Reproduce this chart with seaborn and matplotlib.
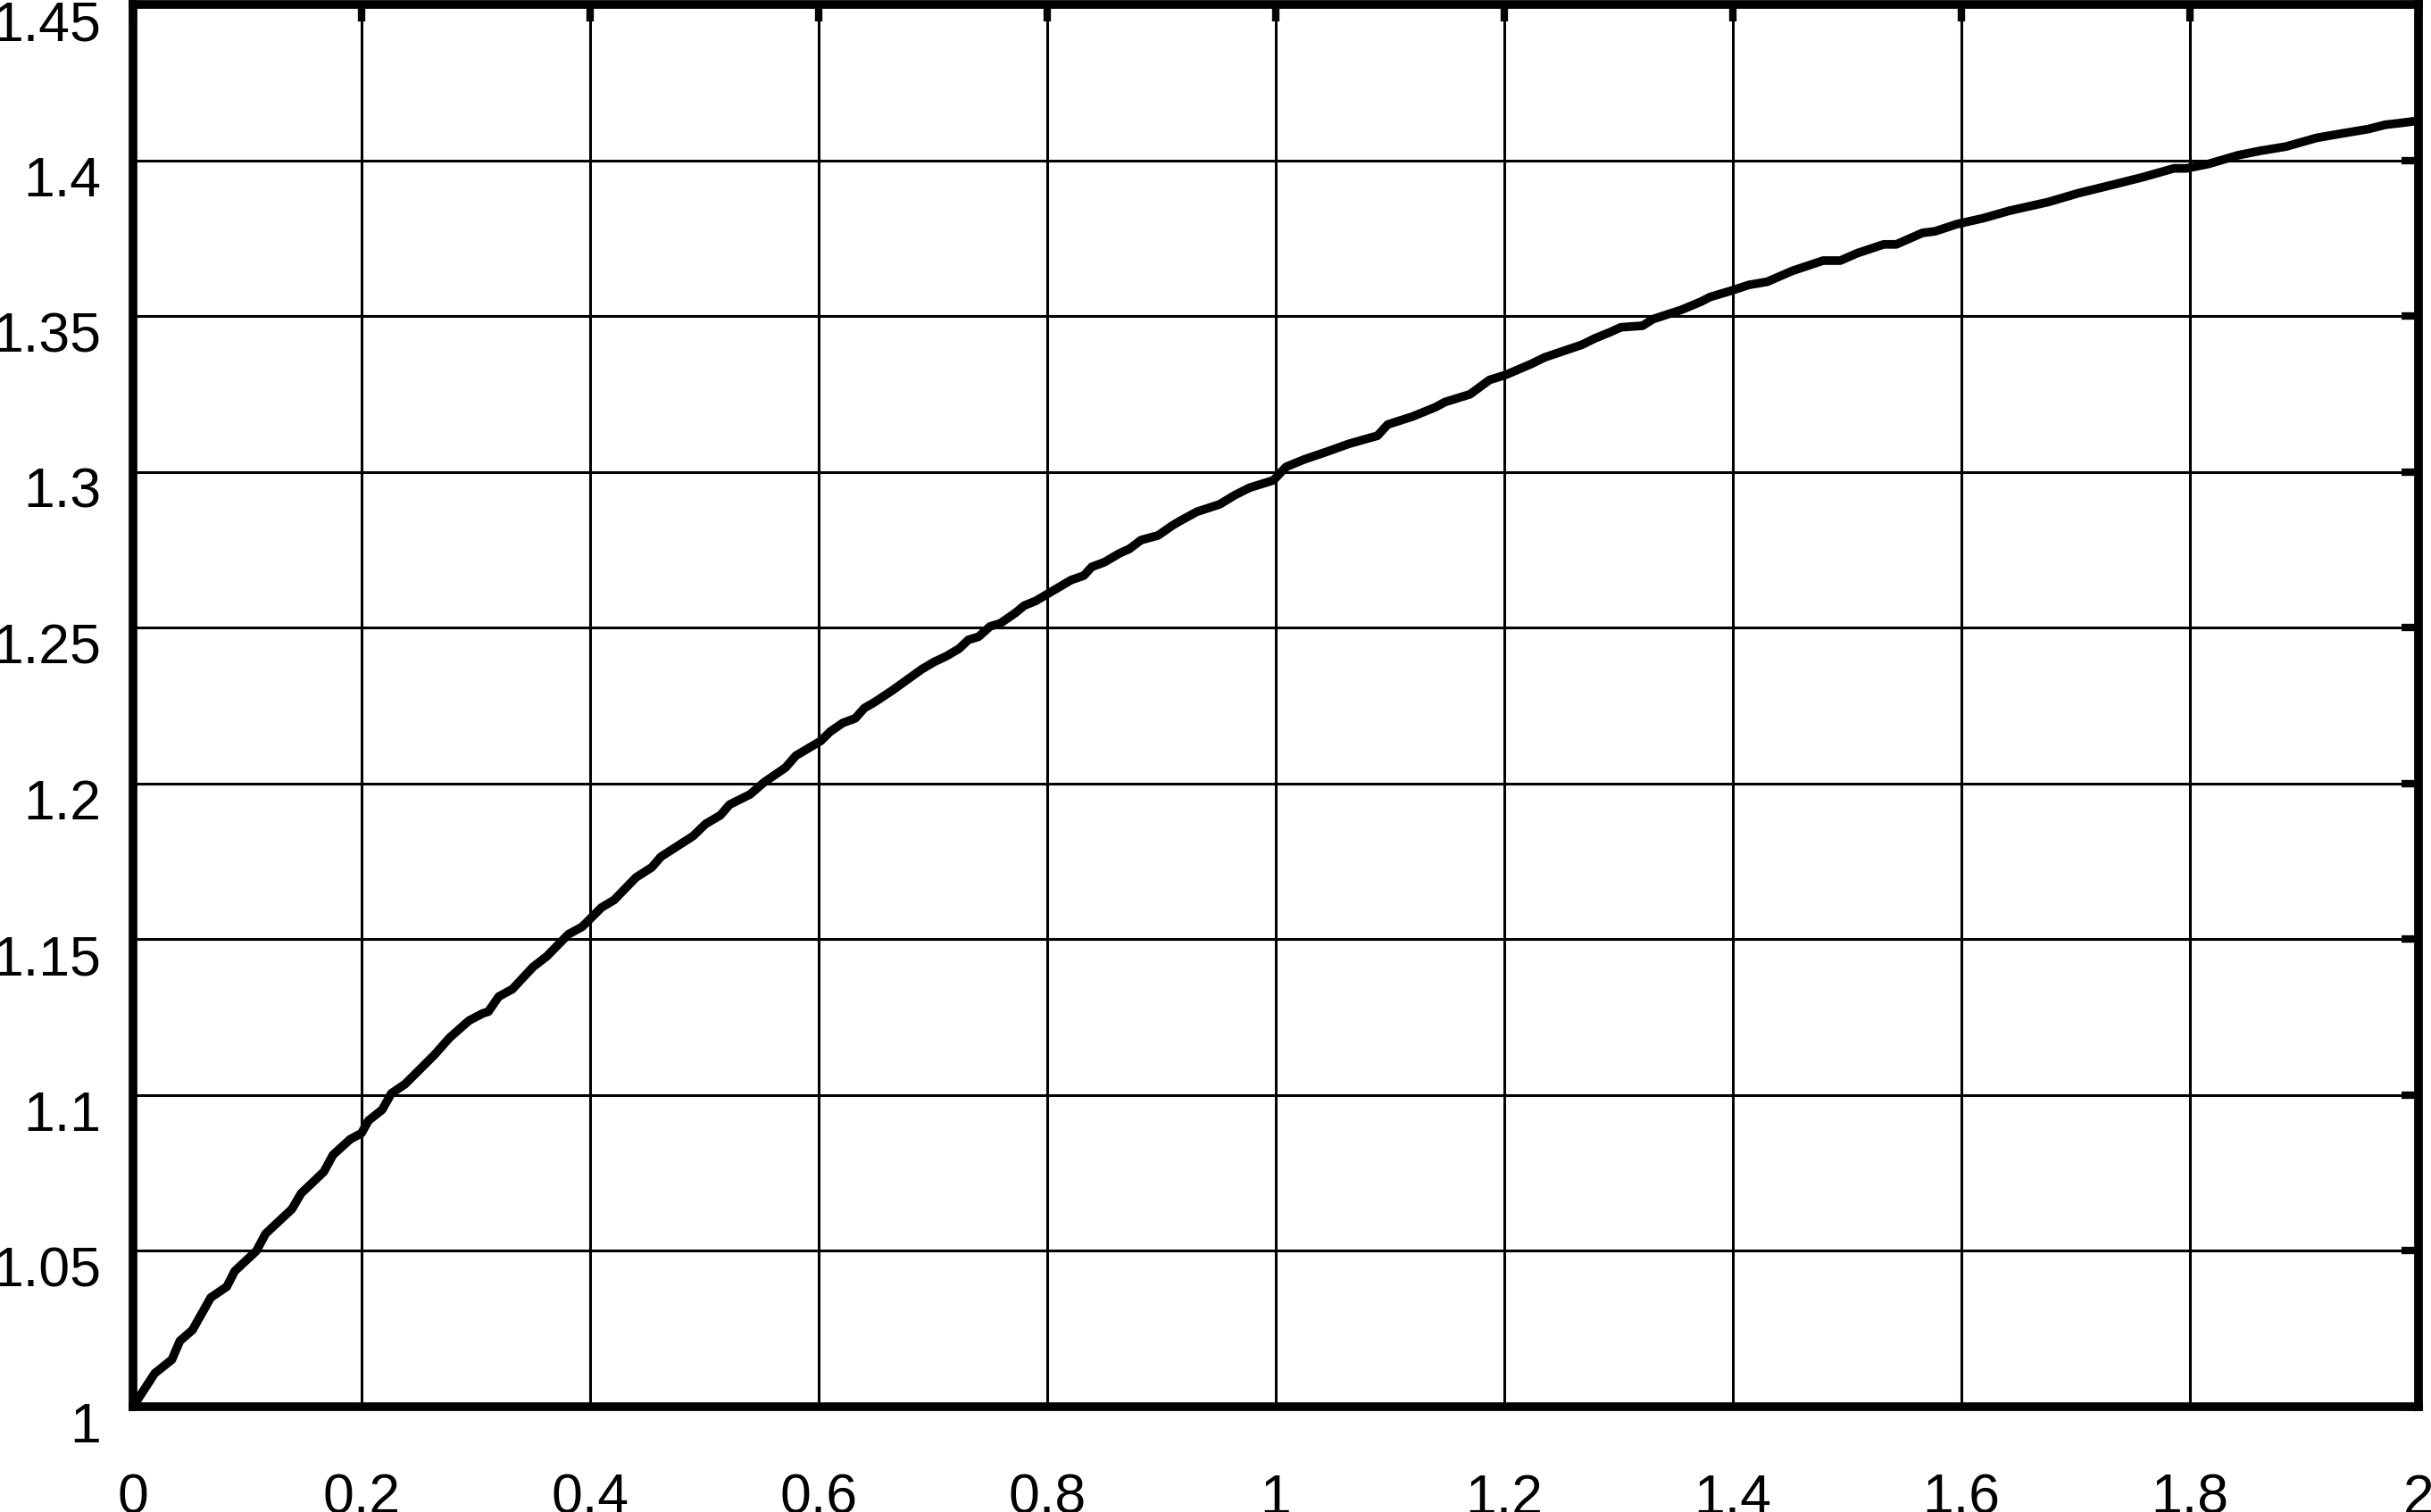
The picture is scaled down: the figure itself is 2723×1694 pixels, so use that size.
import matplotlib
matplotlib.use("Agg")
import matplotlib.pyplot as plt
import seaborn as sns
import pandas as pd
from matplotlib.transforms import ScaledTranslation

# ---- data ----
x_vals = [
    0.000, 0.019, 0.034, 0.041, 0.052, 0.068, 0.082, 0.089, 0.108, 0.116,
    0.139, 0.147, 0.167, 0.175, 0.190, 0.200, 0.206, 0.218, 0.226, 0.238,
    0.264, 0.277, 0.294, 0.306, 0.311, 0.320, 0.332, 0.350, 0.362, 0.381,
    0.393, 0.410, 0.421, 0.440, 0.454, 0.462, 0.490, 0.501, 0.514, 0.522,
    0.540, 0.552, 0.571, 0.580, 0.602, 0.610, 0.621, 0.632, 0.640, 0.649,
    0.665, 0.681, 0.690, 0.701, 0.712, 0.723, 0.731, 0.740, 0.750, 0.759,
    0.772, 0.780, 0.790, 0.803, 0.821, 0.832, 0.839, 0.850, 0.863, 0.872,
    0.882, 0.897, 0.910, 0.917, 0.931, 0.951, 0.964, 0.977, 0.998, 1.009,
    1.025, 1.045, 1.064, 1.089, 1.098, 1.120, 1.140, 1.148, 1.170, 1.187,
    1.201, 1.224, 1.235, 1.268, 1.279, 1.293, 1.302, 1.321, 1.330, 1.355,
    1.372, 1.380, 1.399, 1.414, 1.430, 1.452, 1.479, 1.494, 1.509, 1.532,
    1.543, 1.566, 1.577, 1.596, 1.619, 1.642, 1.676, 1.702, 1.733, 1.759,
    1.786, 1.797, 1.816, 1.842, 1.861, 1.884, 1.911, 1.933, 1.956, 1.971,
    1.983, 2.000,
]
y_vals = [
    1.0000, 1.0107, 1.0151, 1.0211, 1.0246, 1.0350, 1.0385, 1.0435, 1.0500, 1.0555,
    1.0634, 1.0684, 1.0754, 1.0808, 1.0858, 1.0878, 1.0918, 1.0953, 1.1005, 1.1035,
    1.1130, 1.1184, 1.1239, 1.1262, 1.1268, 1.1316, 1.1340, 1.1411, 1.1445, 1.1516,
    1.1540, 1.1602, 1.1626, 1.1698, 1.1731, 1.1765, 1.1831, 1.1870, 1.1898, 1.1932,
    1.1965, 1.2003, 1.2051, 1.2089, 1.2137, 1.2166, 1.2194, 1.2209, 1.2242, 1.2261,
    1.2300, 1.2342, 1.2366, 1.2390, 1.2409, 1.2433, 1.2461, 1.2471, 1.2504, 1.2514,
    1.2547, 1.2571, 1.2586, 1.2614, 1.2653, 1.2667, 1.2695, 1.2710, 1.2738, 1.2753,
    1.2781, 1.2796, 1.2829, 1.2844, 1.2872, 1.2896, 1.2925, 1.2949, 1.2973, 1.3016,
    1.3040, 1.3065, 1.3090, 1.3116, 1.3152, 1.3178, 1.3208, 1.3224, 1.3249, 1.3295,
    1.3311, 1.3347, 1.3367, 1.3408, 1.3428, 1.3449, 1.3464, 1.3469, 1.3490, 1.3520,
    1.3546, 1.3561, 1.3582, 1.3600, 1.3610, 1.3645, 1.3678, 1.3678, 1.3702, 1.3730,
    1.3730, 1.3767, 1.3772, 1.3795, 1.3814, 1.3838, 1.3866, 1.3894, 1.3922, 1.3946,
    1.3974, 1.3974, 1.3988, 1.4016, 1.4030, 1.4044, 1.4072, 1.4086, 1.4100, 1.4114,
    1.4119, 1.4127,
]
x_ticks = [0, 0.2, 0.4, 0.6, 0.8, 1.0, 1.2, 1.4, 1.6, 1.8, 2.0]
x_tick_labels = ["0", "0.2", "0.4", "0.6", "0.8", "1", "1.2", "1.4", "1.6", "1.8", "2"]
y_ticks = [1.0, 1.05, 1.1, 1.15, 1.2, 1.25, 1.3, 1.35, 1.4, 1.45]
y_tick_labels = ["1", "1.05", "1.1", "1.15", "1.2", "1.25", "1.3", "1.35", "1.4", "1.45"]

sns.set_style("white")
plt.rcParams["font.family"] = ["Liberation Sans", "DejaVu Sans"]

W, H = 2723, 1694
fig = plt.figure(figsize=(W / 100, H / 100), dpi=100)
left, right, top, bottom = 149, 2709, 5, 1576
ax = fig.add_axes([left / W, 1 - bottom / H, (right - left) / W, (bottom - top) / H])

df = pd.DataFrame({"x": x_vals, "y": y_vals})
sns.lineplot(data=df, x="x", y="y", ax=ax, color="black", linewidth=7.0,
             sort=False, zorder=3)

ax.set_xlim(0, 2)
ax.set_ylim(1, 1.45)
ax.set_xticks(x_ticks)
ax.set_xticklabels(x_tick_labels)
ax.set_yticks(y_ticks)
ax.set_yticklabels(y_tick_labels)
ax.set_xlabel("")
ax.set_ylabel("")

ax.grid(True, color="black", linewidth=2.2, zorder=1)
for sp in ax.spines.values():
    sp.set_visible(True)
    sp.set_color("black")
    sp.set_linewidth(7.0)
    sp.set_zorder(5)
    sp.set_joinstyle("round")

ax.tick_params(direction="in", length=14, width=6.0, top=True, right=True,
               labelsize=45, colors="black")
ax.tick_params(axis="x", pad=53)
ax.tick_params(axis="y", pad=26)

offset = ScaledTranslation(0, -17 / 100, fig.dpi_scale_trans)
for lab in ax.get_yticklabels():
    lab.set_transform(lab.get_transform() + offset)

fig.savefig("out.png", dpi=100, facecolor="white")
